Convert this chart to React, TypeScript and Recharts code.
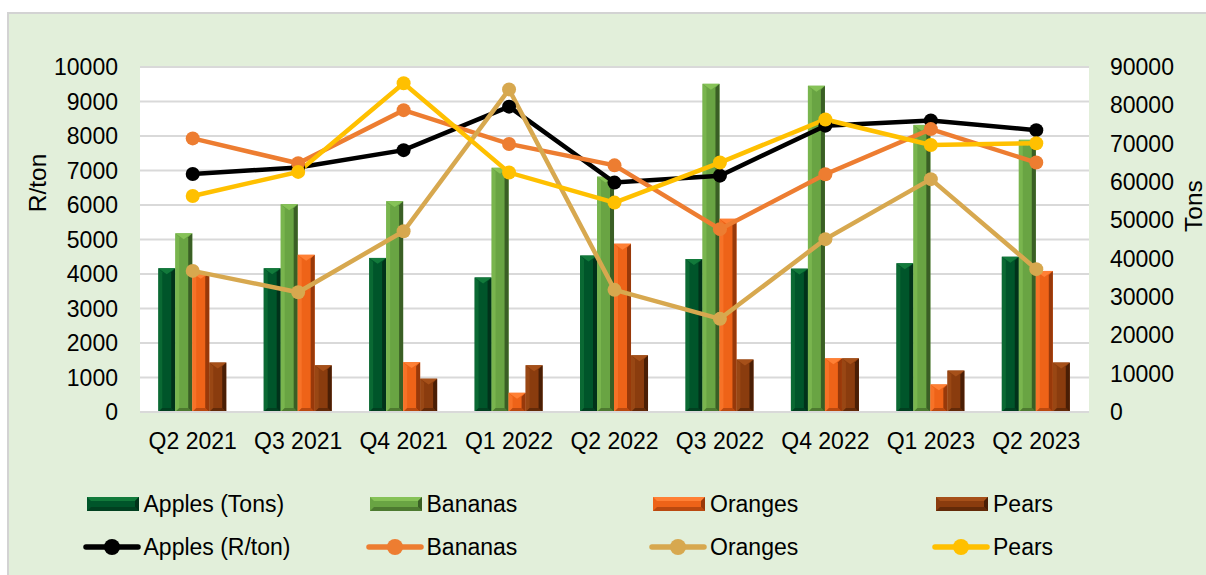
import React from 'react';
import { ComposedChart, Bar, Line, XAxis, YAxis, CartesianGrid } from 'recharts';

const quarters = ['Q2 2021', 'Q3 2021', 'Q4 2021', 'Q1 2022', 'Q2 2022', 'Q3 2022', 'Q4 2022', 'Q1 2023', 'Q2 2023'];

// tons (right axis)
const applesTons = [37500, 37500, 40200, 35100, 40800, 39900, 37400, 38800, 40500];
const bananasTons = [46600, 54200, 55000, 63700, 61400, 85600, 85100, 74900, 71000];
const orangesTons = [36300, 41000, 13000, 5000, 43900, 50400, 14000, 7200, 36800];
const pearsTons = [12900, 12200, 8700, 12200, 14800, 13700, 14000, 10800, 12900];

// R/ton (left axis)
const applesPrice = [6900, 7090, 7590, 8850, 6650, 6850, 8300, 8450, 8170];
const bananasPrice = [7930, 7210, 8750, 7770, 7150, 5300, 6890, 8200, 7230];
const orangesPrice = [4090, 3470, 5240, 9350, 3540, 2700, 5010, 6750, 4140];
const pearsPrice = [6260, 6960, 9530, 6940, 6070, 7230, 8480, 7740, 7790];

const leftTicks = [0, 1000, 2000, 3000, 4000, 5000, 6000, 7000, 8000, 9000, 10000];
const rightTicks = [0, 10000, 20000, 30000, 40000, 50000, 60000, 70000, 80000, 90000];

const data = quarters.map((q, i) => ({
    quarter: q,
    applesTons: applesTons[i],
    bananasTons: bananasTons[i],
    orangesTons: orangesTons[i],
    pearsTons: pearsTons[i],
    applesPrice: applesPrice[i],
    bananasPrice: bananasPrice[i],
    orangesPrice: orangesPrice[i],
    pearsPrice: pearsPrice[i],
}));

const barColors = {
    apples: { base: '#00552A', light: '#127A3B', dark: '#01321A' },
    bananas: { base: '#69A443', light: '#86C257', dark: '#3A5F25' },
    oranges: { base: '#EE6318', light: '#FF8035', dark: '#98390A' },
    pears: { base: '#8A3C0E', light: '#A65019', dark: '#4A1E05' },
};

const lineColors = {
    apples: '#000000',
    bananas: '#ED7D31',
    oranges: '#D7A84F',
    pears: '#FFC000',
};

const FONT = '"Liberation Sans", Arial, sans-serif';

const Bevel = ({ x, y, width, height, c }: any) => {
    if (!height || height <= 0) return null;
    const b = Math.min(4, width / 4);
    const tip = Math.min(width * 0.35, height / 2);
    return (
        <g>
            <rect x={x} y={y} width={width} height={height} fill={c.base} />
            <polygon points={`${x},${y} ${x + b},${y + b} ${x + b},${y + height - b} ${x},${y + height}`} fill={c.light} opacity={0.55} />
            <polygon points={`${x + width},${y} ${x + width - b},${y + b} ${x + width - b},${y + height - b} ${x + width},${y + height}`} fill={c.dark} />
            <polygon points={`${x},${y} ${x + width},${y} ${x + width / 2},${y + tip}`} fill={c.light} />
            <polygon points={`${x},${y + height} ${x + width},${y + height} ${x + width - b},${y + height - b} ${x + b},${y + height - b}`} fill={c.dark} opacity={0.6} />
        </g>
    );
};

const makeShape = (c: any) => (props: any) => <Bevel {...props} c={c} />;

// flat bevel for the legend swatches (wide, short)
const LegendSwatch = ({ c }: any) => (
    <svg width={52} height={14} style={{ marginRight: 5 }}>
        <rect x={0} y={0} width={52} height={14} fill={c.base} />
        <polygon points="0,0 52,0 48,4 4,4" fill={c.light} />
        <polygon points="52,0 52,14 48,10 48,4" fill={c.dark} />
        <polygon points="0,14 52,14 48,10 4,10" fill={c.dark} opacity={0.6} />
    </svg>
);

const legendCols = [143.5, 426.5, 710, 993];
const legendRows = [504, 547];
const legendBars = [
    { label: 'Apples (Tons)', c: barColors.apples },
    { label: 'Bananas', c: barColors.bananas },
    { label: 'Oranges', c: barColors.oranges },
    { label: 'Pears', c: barColors.pears },
];
const legendLines = [
    { label: 'Apples (R/ton)', color: lineColors.apples },
    { label: 'Bananas', color: lineColors.bananas },
    { label: 'Oranges', color: lineColors.oranges },
    { label: 'Pears', color: lineColors.pears },
];

const tickStyle = { fontSize: 23, fill: '#000', fontFamily: FONT };

const App: React.FC = () => {
    return (
        <div style={{ position: 'absolute', left: 0, top: 0, width: 1206, height: 575, overflow: 'hidden', fontFamily: FONT }}>
            <div style={{ position: 'absolute', left: 7, top: 12, right: 0, bottom: 0, background: '#E2EFDA', borderLeft: '2px solid #D3D3D3', borderTop: '2px solid #D3D3D3' }} />
            <div style={{ position: 'absolute', left: 0, top: 0 }}>
                <ComposedChart width={1206} height={575} data={data} margin={{ top: 67, right: 17, bottom: 133, left: 40 }} barCategoryGap="17.3%" barGap={0}>
                    <CartesianGrid yAxisId="left" vertical={false} stroke="#D9D9D9" strokeWidth={2} fill="#FFFFFF" />
                    <XAxis dataKey="quarter" tickLine={false} tickSize={0} tickMargin={21} axisLine={{ stroke: '#D9D9D9', strokeWidth: 2 }} tick={tickStyle} interval={0} height={30} />
                    <YAxis yAxisId="left" orientation="left" domain={[0, 10000]} ticks={leftTicks} interval={0} width={100} axisLine={false} tickLine={false} tickSize={0} tickMargin={22} tick={tickStyle}
                        label={{ content: () => <text x={37} y={183} transform="rotate(-90, 37, 183)" textAnchor="middle" dominantBaseline="central" fontSize={24.5} fontFamily={FONT} fill="#000">R/ton</text> }} />
                    <YAxis yAxisId="right" orientation="right" domain={[0, 90000]} ticks={rightTicks} interval={0} width={100} axisLine={false} tickLine={false} tickSize={0} tickMargin={21} tick={tickStyle}
                        label={{ content: () => <text x={1193} y={206} transform="rotate(-90, 1193, 206)" textAnchor="middle" dominantBaseline="central" fontSize={24.5} fontFamily={FONT} fill="#000">Tons</text> }} />
                    <Bar yAxisId="right" dataKey="applesTons" name="Apples (Tons)" fill={barColors.apples.base} shape={makeShape(barColors.apples)} isAnimationActive={false} />
                    <Bar yAxisId="right" dataKey="bananasTons" name="Bananas" fill={barColors.bananas.base} shape={makeShape(barColors.bananas)} isAnimationActive={false} />
                    <Bar yAxisId="right" dataKey="orangesTons" name="Oranges" fill={barColors.oranges.base} shape={makeShape(barColors.oranges)} isAnimationActive={false} />
                    <Bar yAxisId="right" dataKey="pearsTons" name="Pears" fill={barColors.pears.base} shape={makeShape(barColors.pears)} isAnimationActive={false} />
                    <Line yAxisId="left" dataKey="applesPrice" name="Apples (R/ton)" stroke={lineColors.apples} strokeWidth={4.5} dot={{ r: 7, fill: lineColors.apples, stroke: lineColors.apples, strokeWidth: 0 }} activeDot={false} isAnimationActive={false} />
                    <Line yAxisId="left" dataKey="bananasPrice" name="Bananas" stroke={lineColors.bananas} strokeWidth={4.5} dot={{ r: 7, fill: lineColors.bananas, stroke: lineColors.bananas, strokeWidth: 0 }} activeDot={false} isAnimationActive={false} />
                    <Line yAxisId="left" dataKey="orangesPrice" name="Oranges" stroke={lineColors.oranges} strokeWidth={4.5} dot={{ r: 7, fill: lineColors.oranges, stroke: lineColors.oranges, strokeWidth: 0 }} activeDot={false} isAnimationActive={false} />
                    <Line yAxisId="left" dataKey="pearsPrice" name="Pears" stroke={lineColors.pears} strokeWidth={4.5} dot={{ r: 7, fill: lineColors.pears, stroke: lineColors.pears, strokeWidth: 0 }} activeDot={false} isAnimationActive={false} />
                </ComposedChart>
            </div>
            {legendBars.map((item, i) => (
                <div key={'b' + i} style={{ position: 'absolute', left: legendCols[i] - 57, top: legendRows[0] - 16, height: 32, display: 'flex', alignItems: 'center', whiteSpace: 'nowrap' }}>
                    <LegendSwatch c={item.c} />
                    <span style={{ fontSize: 23, color: '#000' }}>{item.label}</span>
                </div>
            ))}
            {legendLines.map((item, i) => (
                <div key={'l' + i} style={{ position: 'absolute', left: legendCols[i] - 61, top: legendRows[1] - 16, height: 32, display: 'flex', alignItems: 'center', whiteSpace: 'nowrap' }}>
                    <svg width={58} height={18} style={{ marginRight: 3 }}>
                        <line x1={3} y1={9} x2={55} y2={9} stroke={item.color} strokeWidth={5.5} strokeLinecap="round" />
                        <circle cx={29} cy={9} r={8} fill={item.color} />
                    </svg>
                    <span style={{ fontSize: 23, color: '#000' }}>{item.label}</span>
                </div>
            ))}
        </div>
    );
};

export default App;
